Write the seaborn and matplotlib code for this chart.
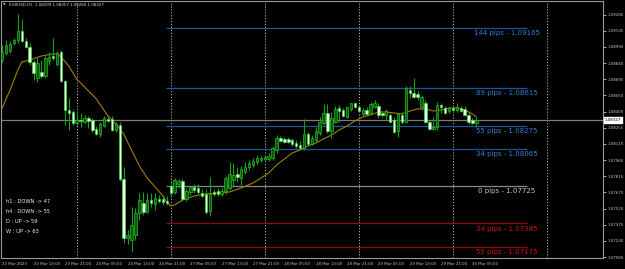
import matplotlib
matplotlib.use("Agg")
import matplotlib.pyplot as plt
import matplotlib.transforms as mtransforms
import seaborn as sns

# ---------------- data (EURUSD H1, 23 Mar 05:00 -> 30 Mar 06:00) ----------------
opens = [1.08871, 1.08935, 1.08953, 1.09025, 1.09053, 1.09135, 1.09044, 1.08989, 1.08853, 1.08707,
         1.08762, 1.08726, 1.08862, 1.08907, 1.08835, 1.08944, 1.08680, 1.08416, 1.08398, 1.08298,
         1.08326, 1.08307, 1.08344, 1.08326, 1.08244, 1.08198, 1.08271, 1.08335, 1.08335, 1.08235,
         1.08280, 1.07789, 1.07253, 1.07235, 1.07280, 1.07480, 1.07571, 1.07489, 1.07598, 1.07562,
         1.07608, 1.07608, 1.07589, 1.07726, 1.07671, 1.07744, 1.07771, 1.07608, 1.07671, 1.07717,
         1.07708, 1.07662, 1.07653, 1.07498, 1.07671, 1.07680, 1.07653, 1.07680, 1.07708, 1.07780,
         1.07835, 1.07798, 1.07853, 1.07898, 1.07917, 1.07944, 1.07962, 1.07971, 1.07971, 1.07980,
         1.08053, 1.08162, 1.08153, 1.08153, 1.08144, 1.08116, 1.08098, 1.08071, 1.08198, 1.08107,
         1.08144, 1.08207, 1.08298, 1.08389, 1.08226, 1.08307, 1.08435, 1.08416, 1.08353, 1.08426,
         1.08480, 1.08444, 1.08380, 1.08416, 1.08389, 1.08444, 1.08453, 1.08389, 1.08371, 1.08371,
         1.08326, 1.08226, 1.08371, 1.08307, 1.08598, 1.08571, 1.08562, 1.08444, 1.08480, 1.08307,
         1.08244, 1.08262, 1.08462, 1.08435, 1.08407, 1.08435, 1.08416, 1.08435, 1.08426, 1.08371,
         1.08326, 1.08299]
highs = [1.09007, 1.09053, 1.09044, 1.09071, 1.09289, 1.09244, 1.09071, 1.09025, 1.08871, 1.08898,
         1.08871, 1.08907, 1.08944, 1.09071, 1.08953, 1.08962, 1.08689, 1.08526, 1.08416, 1.08389,
         1.08389, 1.08371, 1.08362, 1.08344, 1.08271, 1.08307, 1.08362, 1.08362, 1.08362, 1.08307,
         1.08307, 1.07898, 1.07326, 1.07535, 1.07526, 1.07662, 1.07671, 1.07662, 1.07662, 1.07662,
         1.07644, 1.07644, 1.07635, 1.07762, 1.07798, 1.07789, 1.07789, 1.07708, 1.07735, 1.07744,
         1.07744, 1.07698, 1.07698, 1.07808, 1.07698, 1.07708, 1.07708, 1.07817, 1.07944, 1.07935,
         1.07898, 1.07908, 1.07944, 1.07962, 1.07980, 1.08007, 1.07998, 1.08007, 1.08026, 1.08089,
         1.08189, 1.08180, 1.08171, 1.08171, 1.08162, 1.08144, 1.08135, 1.08335, 1.08216, 1.08189,
         1.08262, 1.08353, 1.08471, 1.08471, 1.08398, 1.08453, 1.08462, 1.08435, 1.08453, 1.08480,
         1.08489, 1.08462, 1.08435, 1.08444, 1.08489, 1.08507, 1.08480, 1.08407, 1.08426, 1.08389,
         1.08353, 1.08389, 1.08398, 1.08635, 1.08635, 1.08707, 1.08589, 1.08553, 1.08507, 1.08326,
         1.08353, 1.08489, 1.08480, 1.08453, 1.08444, 1.08453, 1.08480, 1.08453, 1.08453, 1.08389,
         1.08344, 1.08357]
lows = [1.08853, 1.08916, 1.08935, 1.09007, 1.09025, 1.09035, 1.08980, 1.08825, 1.08689, 1.08671,
        1.08707, 1.08707, 1.08825, 1.08871, 1.08816, 1.08671, 1.08280, 1.08235, 1.08280, 1.08280,
        1.08262, 1.08298, 1.08253, 1.08216, 1.08189, 1.08171, 1.08262, 1.08307, 1.08226, 1.08216,
        1.07771, 1.07207, 1.07198, 1.07126, 1.07235, 1.07417, 1.07462, 1.07480, 1.07535, 1.07508,
        1.07571, 1.07553, 1.07553, 1.07635, 1.07653, 1.07708, 1.07589, 1.07589, 1.07644, 1.07662,
        1.07653, 1.07626, 1.07471, 1.07453, 1.07635, 1.07635, 1.07635, 1.07653, 1.07689, 1.07726,
        1.07762, 1.07735, 1.07835, 1.07871, 1.07898, 1.07926, 1.07944, 1.07953, 1.07953, 1.07962,
        1.08026, 1.08135, 1.08116, 1.08116, 1.08089, 1.08071, 1.08053, 1.08053, 1.08089, 1.08098,
        1.08126, 1.08189, 1.08280, 1.08207, 1.08162, 1.08298, 1.08307, 1.08353, 1.08344, 1.08407,
        1.08435, 1.08398, 1.08362, 1.08371, 1.08380, 1.08435, 1.08344, 1.08353, 1.08326, 1.08307,
        1.08207, 1.08171, 1.08289, 1.08298, 1.08526, 1.08526, 1.08507, 1.08416, 1.08298, 1.08235,
        1.08235, 1.08235, 1.08389, 1.08380, 1.08389, 1.08398, 1.08398, 1.08398, 1.08362, 1.08289,
        1.08289, 1.08260]
closes = [1.08944, 1.09007, 1.09016, 1.09053, 1.09135, 1.09044, 1.08989, 1.08853, 1.08753, 1.08844,
          1.08726, 1.08889, 1.08898, 1.08889, 1.08935, 1.08680, 1.08416, 1.08389, 1.08298, 1.08326,
          1.08316, 1.08344, 1.08316, 1.08235, 1.08198, 1.08289, 1.08344, 1.08316, 1.08235, 1.08289,
          1.07789, 1.07253, 1.07280, 1.07371, 1.07480, 1.07598, 1.07489, 1.07598, 1.07571, 1.07617,
          1.07589, 1.07580, 1.07571, 1.07662, 1.07780, 1.07771, 1.07608, 1.07680, 1.07717, 1.07689,
          1.07671, 1.07635, 1.07489, 1.07653, 1.07653, 1.07653, 1.07680, 1.07798, 1.07835, 1.07826,
          1.07808, 1.07880, 1.07898, 1.07935, 1.07953, 1.07980, 1.07980, 1.07989, 1.07998, 1.08071,
          1.08162, 1.08135, 1.08126, 1.08126, 1.08107, 1.08089, 1.08071, 1.08198, 1.08107, 1.08162,
          1.08226, 1.08307, 1.08389, 1.08226, 1.08344, 1.08426, 1.08407, 1.08362, 1.08444, 1.08480,
          1.08444, 1.08407, 1.08416, 1.08380, 1.08471, 1.08480, 1.08371, 1.08371, 1.08407, 1.08307,
          1.08216, 1.08380, 1.08307, 1.08617, 1.08571, 1.08535, 1.08535, 1.08535, 1.08307, 1.08244,
          1.08262, 1.08462, 1.08444, 1.08389, 1.08435, 1.08416, 1.08444, 1.08407, 1.08371, 1.08307,
          1.08298, 1.08327]

ma_bars = [0, 2, 4, 5, 7, 10, 13, 14, 15, 17, 19, 22, 24, 27, 29, 31, 33, 35, 37, 39,
           41, 42, 43, 44, 46, 49, 52, 55, 58, 61, 64, 66, 68, 70, 72, 74, 76, 78, 80, 82,
           84, 86, 88, 90, 92, 94, 96, 98, 100, 102, 104, 106, 108, 110, 112, 114, 116, 118, 120, 121]
ma_values = [1.08435, 1.08598, 1.08780, 1.08853, 1.08871, 1.08907, 1.08926, 1.08926, 1.08898, 1.08816,
             1.08698, 1.08589, 1.08517, 1.08362, 1.08289, 1.08198, 1.08053, 1.07908, 1.07798, 1.07717,
             1.07635, 1.07580, 1.07544, 1.07553, 1.07598, 1.07635, 1.07653, 1.07662, 1.07671, 1.07708,
             1.07753, 1.07798, 1.07844, 1.07917, 1.07971, 1.08026, 1.08053, 1.08089, 1.08116, 1.08153,
             1.08189, 1.08235, 1.08271, 1.08316, 1.08353, 1.08371, 1.08398, 1.08398, 1.08389, 1.08380,
             1.08407, 1.08426, 1.08426, 1.08407, 1.08416, 1.08435, 1.08435, 1.08416, 1.08380, 1.08353]

level_values = [1.09165, 1.08615, 1.08275, 1.08065, 1.07725, 1.07385, 1.07175]
level_labels = ["144 pips - 1.09165", "89 pips - 1.08615", "55 pips - 1.08275", "34 pips - 1.08065",
                "0 pips - 1.07725", "34 pips - 1.07385", "55 pips - 1.07175"]
level_kinds = ["up", "up", "up", "up", "zero", "down", "down"]

y_tick_values = [1.09280, 1.09135, 1.08990, 1.08840, 1.08695, 1.08550, 1.08400, 1.08255,
                 1.08110, 1.07960, 1.07815, 1.07670, 1.07520, 1.07375, 1.07230, 1.07080]
x_tick_bars = [0, 8, 16, 24, 32, 40, 48, 56, 64, 72, 80, 88, 96, 104, 112, 120]
x_tick_labels = ["23 Mar 2023", "23 Mar 13:00", "23 Mar 21:00", "24 Mar 05:00", "24 Mar 13:00",
                 "24 Mar 21:00", "27 Mar 05:00", "27 Mar 13:00", "27 Mar 21:00", "28 Mar 05:00",
                 "28 Mar 13:00", "28 Mar 21:00", "29 Mar 05:00", "29 Mar 13:00", "29 Mar 21:00",
                 "30 Mar 05:00"]
separator_bars = [19, 43, 67, 91, 115, 139]
info_lines = ["h1 : DOWN -> 47", "h4 : DOWN -> 55", "D : UP -> 59", "W : UP -> 63"]
header_text = "EURUSD,H1  1.08299 1.08357 1.08260 1.08327"
current_price = 1.08327

# ---------------- styling ----------------
sns.set_style("dark", {"axes.facecolor": "black", "figure.facecolor": "black"})
plt.rcParams["font.family"] = ["DejaVu Sans"]

W, H = 625, 269
fig = plt.figure(figsize=(W / 100, H / 100), dpi=100, facecolor="black")
ax = fig.add_axes([1.5 / W, 1 - 258 / H, 601.5 / W, 257 / H])
ax.set_facecolor("black")
ax.grid(False)

x_left, x_right = -0.18, 153.3
y_bottom, y_top = 1.07071, 1.09407
ax.set_xlim(x_left, x_right)
ax.set_ylim(y_bottom, y_top)

# period separators
ax.vlines(separator_bars, y_bottom, y_top, colors="#b8b8b8", linewidth=0.7,
          linestyles=(0, (1.2, 1.8)), zorder=1)

# current price line
ax.axhline(current_price, color="#7c7c7c", linewidth=0.9, zorder=2)

# level lines and labels
line_col = {"up": "#1d5796", "zero": "#8a8a8a", "down": "#8c0b0b"}
text_col = {"up": "#2f80d8", "zero": "#c4c4c4", "down": "#d21010"}
for val, lab, kind in zip(level_values, level_labels, level_kinds):
    ax.hlines(val, 41.8, 133.9, colors=line_col[kind], linewidth=0.9, zorder=2)
    ax.annotate(lab, (128.8, val), xytext=(0, -3.7), textcoords="offset points",
                ha="center", va="center", fontsize=5.0, color=text_col[kind], zorder=5)

# moving average
sns.lineplot(x=ma_bars, y=ma_values, ax=ax, color="#a07f00", linewidth=0.8, zorder=3)

# candles
wick_col = "#14a014"
for i, (o, h, l, c) in enumerate(zip(opens, highs, lows, closes)):
    ax.vlines(i, l, h, colors=wick_col, linewidth=0.8, zorder=4)
    bottom = min(o, c)
    height = max(abs(c - o), 0.00008)
    if c >= o:
        face, edge = "#0b5a0b", "#2cc82c"
    else:
        face, edge = "#eaffea", "#3ad83a"
    ax.bar(i, height, bottom=bottom, width=0.62, color=face, edgecolor=edge,
           linewidth=0.45, zorder=4)

# frame
for s in ax.spines.values():
    s.set_color("#9a9a9a")
    s.set_linewidth(0.8)

# axes ticks
ax.yaxis.tick_right()
ax.set_yticks(y_tick_values)
ax.set_yticklabels([f"{v:.5f}" for v in y_tick_values])
ax.tick_params(axis="y", which="both", direction="out", length=2, width=0.6,
               colors="#c8c8c8", labelsize=2.9, pad=1.2)
ax.set_xticks(x_tick_bars)
ax.set_xticklabels(x_tick_labels)
ax.tick_params(axis="x", which="both", direction="out", length=2, width=0.6,
               colors="#c8c8c8", labelsize=2.8, pad=0.8)
for t in ax.get_xticklabels():
    t.set_ha("left")
ax.set_xlabel("")
ax.set_ylabel("")

# current price box on right scale
trans = mtransforms.blended_transform_factory(ax.transAxes, ax.transData)
ax.text(1.003, current_price, "1.08327", transform=trans, fontsize=2.9, color="black",
        va="center", ha="left", zorder=10, clip_on=False,
        bbox=dict(facecolor="white", edgecolor="white", pad=0.5))

# header
fig.text(3 / W, 1 - 5 / H, "\u25bc", fontsize=2.4, color="#d0d0d0", va="center", ha="left")
fig.text(9 / W, 1 - 5 / H, header_text, fontsize=2.9, color="#d8d8d8", va="center", ha="left")

# info block
for k, line in enumerate(info_lines):
    fig.text(6 / W, 1 - (201.7 + 9.8 * k) / H, line, fontsize=3.7, color="#f0f0f0",
             va="center", ha="left")

fig.savefig("out.png", dpi=100, facecolor="black")
